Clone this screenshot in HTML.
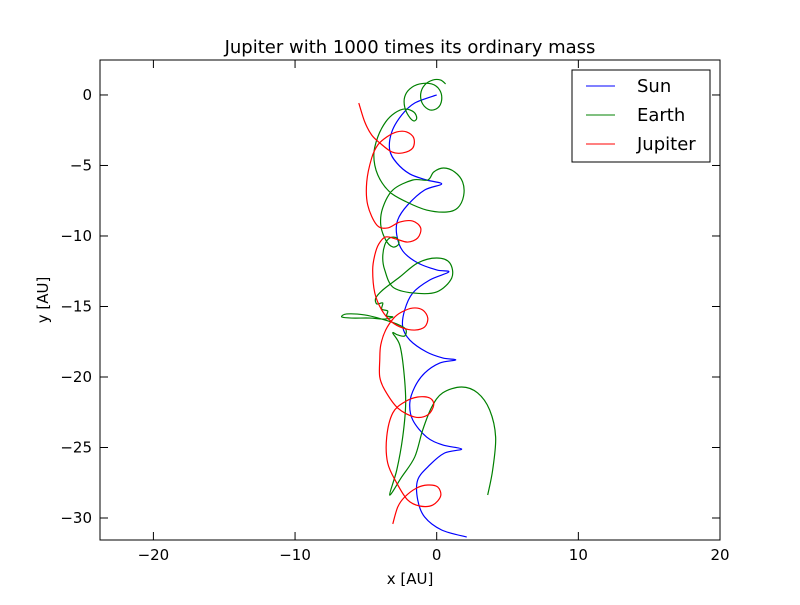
<!DOCTYPE html>
<html><head><meta charset="utf-8"><style>
body{margin:0;background:#fff;}
svg text{font-family:"DejaVu Sans","Liberation Sans",sans-serif;}
</style></head><body>
<svg id="chart" width="800" height="600" xmlns="http://www.w3.org/2000/svg">
<rect width="800" height="600" fill="#fff"/>
<text x="410" y="53" font-size="18" text-anchor="middle">Jupiter with 1000 times its ordinary mass</text>
<g id="ticks"></g>
<g id="series"></g>
<rect x="100" y="60" width="620" height="480" fill="none" stroke="#000" stroke-width="1"/>
<text x="410" y="584" font-size="15" text-anchor="middle">x [AU]</text>
<text transform="translate(48,300) rotate(-90)" font-size="15" text-anchor="middle">y [AU]</text>
<g>
<rect x="572" y="70" width="138" height="92" fill="#fff" stroke="#000"/>
<line x1="586" y1="86" x2="615" y2="86" stroke="#0000ff"/>
<text x="637" y="92" font-size="18">Sun</text>
<line x1="586" y1="115" x2="615" y2="115" stroke="#008000"/>
<text x="637" y="121" font-size="18">Earth</text>
<line x1="586" y1="144" x2="615" y2="144" stroke="#ff0000"/>
<text x="637" y="150" font-size="18">Jupiter</text>
</g>
</svg>
<script>
const xTicks=[-20,-10,0,10,20];
const yTicks=[0,-5,-10,-15,-20,-25,-30];
const sunX=[0,-1.55,-2.47,-3.17,-3.32,-2.82,-1.90,-0.71,0.35,-0.85,-2.05,-2.75,-2.82,-2.40,-1.34,0,0.85,-0.49,-1.69,-2.26,-2.40,-1.90,-0.71,0.42,1.34,0.21,-0.85,-1.55,-1.90,-1.69,-0.71,0.42,1.76,0.56,-0.49,-1.34,-1.34,-0.85,0.35,2.12];
const sunY=[0,-0.57,-1.42,-2.62,-3.90,-4.82,-5.60,-6.03,-6.31,-6.74,-7.80,-8.86,-9.93,-11.06,-11.91,-12.41,-12.55,-13.12,-14.04,-15.25,-16.45,-17.38,-18.23,-18.65,-18.79,-19.01,-19.72,-20.71,-21.84,-23.05,-24.26,-24.82,-25.11,-25.39,-26.24,-27.30,-28.72,-29.93,-30.85,-31.35];
const earthX=[0.63,0.28,-0.28,-0.85,-1.13,-0.99,-0.49,0.07,0.35,0.21,-0.35,-1.20,-1.90,-2.26,-2.26,-1.98,-1.62,-1.41,-1.62,-2.26,-2.96,-3.60,-4.16,-4.44,-4.16,-3.32,-2.12,-0.71,0.71,1.48,1.90,1.83,1.27,0.49,-0.21,-0.63,-1.69,-3.10,-3.81,-3.95,-3.60,-3.10,-2.68,-2.82,-3.32,-3.67,-3.81,-3.67,-3.10,-1.69,0,1.06,0.92,0,-1.34,-2.61,-3.81,-4.30,-4.23,-3.81,-3.88,-3.46,-3.53,-3.10,-3.67,-4.73,-6.00,-6.70,-6.35,-5.08,-3.88,-2.82,-2.19,-2.26,-2.75,-3.10,-2.61,-2.33,-2.19,-2.40,-2.82,-3.32,-2.47,-1.55,-0.99,-0.35,0.42,1.76,2.89,3.74,4.16,3.95,3.60];
const earthY=[0.78,1.06,1.06,0.71,0.07,-0.64,-1.06,-0.92,-0.35,0.35,0.78,0.78,0.43,-0.14,-0.85,-1.49,-1.84,-1.63,-1.21,-0.99,-1.28,-1.91,-2.98,-4.26,-5.67,-6.88,-7.59,-8.16,-8.30,-8.01,-7.16,-6.17,-5.46,-5.18,-5.46,-6.03,-6.03,-6.74,-8.01,-9.22,-10.28,-10.78,-10.57,-10.14,-10.14,-10.64,-11.56,-12.41,-13.62,-14.04,-13.97,-12.98,-11.91,-11.56,-11.91,-12.91,-13.83,-14.40,-14.82,-14.75,-15.18,-15.32,-15.67,-15.74,-15.89,-15.82,-15.82,-15.74,-15.53,-15.60,-15.89,-16.24,-16.60,-17.09,-17.02,-16.88,-17.73,-19.50,-21.84,-24.26,-26.60,-28.37,-27.09,-25.67,-23.76,-22.13,-21.13,-20.71,-21.13,-22.34,-24.26,-26.60,-28.37];
const jupX=[-5.50,-5.08,-4.59,-4.02,-3.17,-2.40,-1.69,-1.62,-2.12,-2.82,-3.53,-4.16,-4.59,-4.94,-4.87,-4.23,-3.46,-2.61,-1.69,-1.13,-1.34,-2.05,-2.89,-3.60,-4.09,-4.37,-4.52,-4.37,-3.88,-3.17,-2.40,-1.55,-0.85,-0.63,-0.99,-1.69,-2.47,-3.03,-3.60,-3.95,-4.02,-4.02,-3.67,-2.75,-1.55,-0.63,-0.21,-0.49,-1.34,-2.26,-3.10,-3.53,-3.46,-2.82,-2.05,-1.20,-0.28,0.28,0.07,-0.63,-1.41,-2.26,-2.75,-3.10];
const jupY=[-0.57,-1.91,-2.84,-3.40,-4.04,-4.11,-3.76,-3.05,-2.62,-2.62,-2.98,-3.55,-4.47,-6.17,-7.80,-9.22,-9.43,-9.01,-8.94,-9.43,-10.14,-10.43,-10.21,-10.07,-10.57,-11.35,-12.41,-14.04,-15.25,-16.10,-16.52,-16.67,-16.45,-15.82,-15.25,-15.11,-15.39,-15.82,-16.67,-17.73,-18.79,-20.00,-20.92,-22.20,-22.84,-22.69,-21.98,-21.49,-21.42,-21.77,-22.55,-24.26,-26.10,-27.52,-28.72,-29.15,-29.08,-28.44,-27.80,-27.66,-27.87,-28.51,-29.22,-30.42];

const X0=100,X1=720,Y0=60,Y1=540,xMin=-23.77,xMax=20,yMin=-31.56,yMax=2.48;
function sx(v){return X0+(v-xMin)/(xMax-xMin)*(X1-X0);}
function sy(v){return Y1-(v-yMin)/(yMax-yMin)*(Y1-Y0);}
const NS='http://www.w3.org/2000/svg';
const tg=document.getElementById('ticks');
function mk(tag,at){const e=document.createElementNS(NS,tag);for(const k in at)e.setAttribute(k,at[k]);return e;}
xTicks.forEach(t=>{
  const x=sx(t);
  const a=mk('line',{x1:x,y1:Y1,x2:x,y2:Y1-8,stroke:'#000'});
  
  
  tg.appendChild(a);
  const b=mk('line',{x1:x,y1:Y0,x2:x,y2:Y0+8,stroke:'#000'});
  
  
  tg.appendChild(b);
  const l=mk('text',{x:x,y:Y1+20,'font-size':15,'text-anchor':'middle'});
  l.textContent=(t<0?'\u2212'+(-t):t);
  
  
  tg.appendChild(l);
});
yTicks.forEach(t=>{
  const y=sy(t);
  const a=mk('line',{x1:X0,y1:y,x2:X0+8,y2:y,stroke:'#000'});
  
  
  tg.appendChild(a);
  const b=mk('line',{x1:X1,y1:y,x2:X1-8,y2:y,stroke:'#000'});
  
  
  tg.appendChild(b);
  const l=mk('text',{x:X0-8,y:y+5,'font-size':15,'text-anchor':'end'});
  l.textContent=(t<0?'\u2212'+(-t):t);
  
  
  tg.appendChild(l);
});
function pathFor(xs,ys){
  const p=xs.map((v,i)=>[sx(v),sy(ys[i])]);
  let d='M'+p[0][0].toFixed(2)+' '+p[0][1].toFixed(2);
  for(let i=0;i<p.length-1;i++){
    const a=p[Math.max(0,i-1)],b=p[i],c=p[i+1],e=p[Math.min(p.length-1,i+2)];
    const c1=[b[0]+(c[0]-a[0])/6,b[1]+(c[1]-a[1])/6];
    const c2=[c[0]-(e[0]-b[0])/6,c[1]-(e[1]-b[1])/6];
    d+=' C'+c1[0].toFixed(2)+' '+c1[1].toFixed(2)+' '+c2[0].toFixed(2)+' '+c2[1].toFixed(2)+' '+c[0].toFixed(2)+' '+c[1].toFixed(2);
  }
  return d;
}
const sg=document.getElementById('series');
const ps=mk('path',{d:pathFor(sunX,sunY),fill:'none',stroke:'#0000ff','stroke-width':1.2});


sg.appendChild(ps);
const pe=mk('path',{d:pathFor(earthX,earthY),fill:'none',stroke:'#008000','stroke-width':1.2});


sg.appendChild(pe);
const pj=mk('path',{d:pathFor(jupX,jupY),fill:'none',stroke:'#ff0000','stroke-width':1.2});


sg.appendChild(pj);
</script>
</body></html>
